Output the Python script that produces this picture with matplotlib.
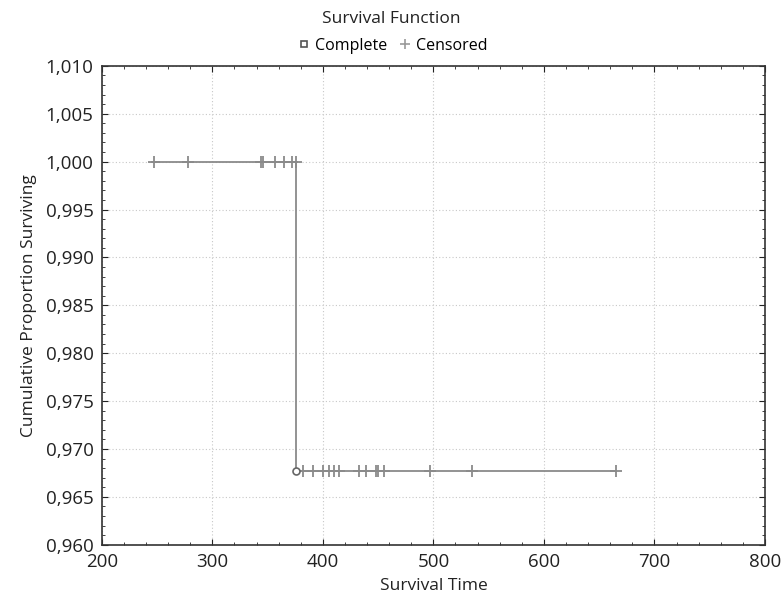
import matplotlib
matplotlib.use("Agg")
import matplotlib.pyplot as plt
from matplotlib.ticker import FuncFormatter, MultipleLocator, AutoMinorLocator
from matplotlib.lines import Line2D

plt.rcParams['font.family'] = ['Open Sans', 'DejaVu Sans']

# Step function data
step_times = [245, 376, 376, 665]
step_surv = [1.000, 1.000, 0.9677, 0.9677]

# Complete (event) observations
complete_times = [376]
complete_surv = [0.9677]

# Censored observations
censored_top_times = [247, 278, 344, 346, 357, 365, 372, 376]
censored_bottom_times = [382, 391, 400, 406, 410, 415, 433, 439, 448, 450, 455, 497, 535, 665]
surv_top = 1.000
surv_bottom = 0.9677

fig = plt.figure(figsize=(7.83, 6.04), dpi=100)
ax = fig.add_axes([0.130, 0.098, 0.847, 0.793])

line_col = '#8a8a8a'
ax.plot(step_times, step_surv, color=line_col, lw=1.3, zorder=3)
ax.plot(censored_top_times, [surv_top] * len(censored_top_times), linestyle='none',
        marker='+', markersize=8, mew=1.3, color=line_col, zorder=4)
ax.plot(censored_bottom_times, [surv_bottom] * len(censored_bottom_times), linestyle='none',
        marker='+', markersize=8, mew=1.3, color=line_col, zorder=4)
ax.plot(complete_times, complete_surv, linestyle='none', marker='o', markersize=5,
        mfc='white', mec='#666666', mew=1.2, zorder=5)

ax.set_xlim(200, 800)
ax.set_ylim(0.960, 1.010)
ax.xaxis.set_major_locator(MultipleLocator(100))
ax.yaxis.set_major_locator(MultipleLocator(0.005))
ax.xaxis.set_minor_locator(AutoMinorLocator(5))
ax.yaxis.set_minor_locator(AutoMinorLocator(5))
ax.yaxis.set_major_formatter(FuncFormatter(lambda v, p: f"{v:.3f}".replace('.', ',')))
ax.xaxis.set_major_formatter(FuncFormatter(lambda v, p: f"{v:.0f}"))

ax.tick_params(which='both', direction='in', top=True, right=True, labelsize=13.5, colors='#222222')
ax.tick_params(which='major', length=4)
ax.tick_params(which='minor', length=2.5)
ax.tick_params(axis='both', which='major', pad=6)
for s in ax.spines.values():
    s.set_color('#333333')
    s.set_linewidth(1.2)

ax.grid(True, which='major', linestyle=(0, (1, 2)), color='#c8c8c8', lw=0.8)
ax.set_axisbelow(True)

ax.set_xlabel('Survival Time', fontsize=12.5, color='#222222', labelpad=5)
ax.set_ylabel('Cumulative Proportion Surviving', fontsize=12.5, color='#222222', labelpad=6)

fig.text(0.5, 0.968, 'Survival Function', ha='center', va='center', fontsize=12.5, color='#222222')
handles = [
    Line2D([], [], linestyle='none', marker='s', markersize=4, mfc='white', mec='#555555', mew=1.2),
    Line2D([], [], linestyle='none', marker='+', markersize=7, mew=1.2, color='#999999'),
]
fig.legend(handles, ['Complete', 'Censored'], loc='center', bbox_to_anchor=(0.5, 0.924),
           ncol=2, frameon=False, fontsize=11.5, handletextpad=0.2, columnspacing=0.6,
           handlelength=1.0, borderpad=0)

fig.savefig('out.png', dpi=100)
